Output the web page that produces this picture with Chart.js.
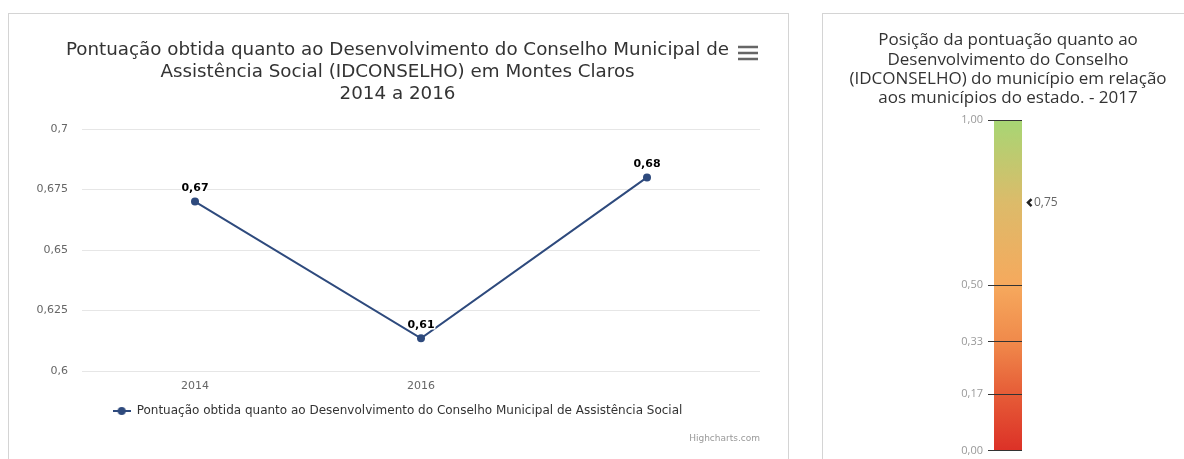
<!DOCTYPE html>
<html lang="pt-BR">
<head>
<meta charset="utf-8">
<title>IDCONSELHO - Montes Claros</title>
<script src="https://cdn.jsdelivr.net/npm/chart.js@4.4.1/dist/chart.umd.min.js"></script>
<style>
  html, body { margin: 0; padding: 0; background: #fff; }
  body { width: 1184px; height: 459px; position: relative; overflow: hidden; }
  .panel { position: absolute; border: 1px solid #d4d4d4; box-sizing: border-box; }
  #panelLine { left: 8px; top: 13px; width: 781px; height: 470px; }
  #panelGauge { left: 822px; top: 13px; width: 400px; height: 470px; }
  canvas { position: absolute; display: block; }
  #lineChart { left: 9px; top: 14px; }
  #gaugeChart { left: 823px; top: 14px; }
</style>
</head>
<body>
<div class="panel" id="panelLine"></div>
<div class="panel" id="panelGauge"></div>
<canvas id="lineChart" width="779" height="445"></canvas>
<canvas id="gaugeChart" width="361" height="448"></canvas>
<script>
// ---- data ----
const years = ['2014', '2016', ''];
const scores = [0.67, 0.6135, 0.68];
const scoreMin = 0.6;
const scoreMax = 0.7;
const scoreStep = 0.025;

const gaugeRange = [0, 1];
const gaugeTicks = [0, 0.17, 0.33, 0.5, 1];
const gaugeValue = 0.75;

const seriesName = 'Pontuação obtida quanto ao Desenvolvimento do Conselho Municipal de Assistência Social';
const lineTitle = [
  'Pontuação obtida quanto ao Desenvolvimento do Conselho Municipal de',
  'Assistência Social (IDCONSELHO) em Montes Claros',
  '2014 a 2016'
];
const gaugeTitle = [
  'Posição da pontuação quanto ao',
  'Desenvolvimento do Conselho',
  '(IDCONSELHO) do município em relação',
  'aos municípios do estado. - 2017'
];

const lineColor = '#2e4a7d';
const gaugeStops = [
  [0, '#dc3127'],
  [0.17, '#e65c37'],
  [0.33, '#f08a4b'],
  [0.5, '#f6a95d'],
  [0.75, '#dcbb6a'],
  [1, '#a7d674']
];

const fmt = (v, d) => v.toFixed(d).replace('.', ',');

// legend symbol: short line with a dot in the middle
function legendSymbol() {
  const c = document.createElement('canvas');
  c.width = 18; c.height = 10;
  const g = c.getContext('2d');
  g.strokeStyle = lineColor;
  g.lineWidth = 2;
  g.beginPath(); g.moveTo(0, 5); g.lineTo(18, 5); g.stroke();
  g.fillStyle = lineColor;
  g.beginPath(); g.arc(9, 5, 4, 0, Math.PI * 2); g.fill();
  return c;
}

// ---- small plugins ----
const valueLabels = {
  id: 'valueLabels',
  afterDatasetsDraw(chart) {
    const ctx = chart.ctx;
    const meta = chart.getDatasetMeta(0);
    ctx.save();
    ctx.font = 'bold 11px "DejaVu Sans", sans-serif';
    ctx.textAlign = 'center';
    ctx.textBaseline = 'middle';
    meta.data.forEach((pt, i) => {
      const txt = fmt(chart.data.datasets[0].data[i], 2);
      ctx.lineWidth = 3;
      ctx.strokeStyle = '#fff';
      ctx.strokeText(txt, pt.x, pt.y - 13);
      ctx.fillStyle = '#000';
      ctx.fillText(txt, pt.x, pt.y - 13);
    });
    ctx.restore();
  }
};

const chrome = {
  id: 'chrome',
  afterDraw(chart) {
    const ctx = chart.ctx;
    ctx.save();
    // export menu button
    ctx.fillStyle = '#666';
    [33, 39, 45].forEach(y => ctx.fillRect(729, y - 1.25, 20, 2.5));
    // credits
    ctx.font = '9px "DejaVu Sans", sans-serif';
    ctx.fillStyle = '#999';
    ctx.textAlign = 'right';
    ctx.textBaseline = 'middle';
    ctx.fillText('Highcharts.com', 751, 425);
    ctx.restore();
  }
};

// little chevron pointing at the municipality's position
const gaugeMarker = {
  id: 'gaugeMarker',
  afterDraw(chart) {
    const ctx = chart.ctx;
    const y = chart.scales.y.getPixelForValue(gaugeValue);
    const x = chart.chartArea.right;
    ctx.save();
    ctx.strokeStyle = '#222';
    ctx.lineWidth = 2.5;
    ctx.lineJoin = 'miter';
    ctx.beginPath();
    ctx.moveTo(x + 9.5, y - 3.5);
    ctx.lineTo(x + 6, y);
    ctx.lineTo(x + 9.5, y + 3.5);
    ctx.stroke();
    ctx.restore();
  }
};

// ---- line chart ----
new Chart(document.getElementById('lineChart'), {
  type: 'line',
  data: {
    labels: years,
    datasets: [{
      label: seriesName,
      data: scores,
      borderColor: lineColor,
      backgroundColor: lineColor,
      borderWidth: 2,
      tension: 0,
      pointRadius: 4,
      pointBorderWidth: 0,
      pointBackgroundColor: lineColor
    }]
  },
  options: {
    responsive: false,
    animation: false,
    layout: { padding: { left: 26, right: 28, top: 0, bottom: 32 } },
    scales: {
      x: {
        offset: true,
        grid: { display: false, drawTicks: false },
        border: { display: false },
        ticks: { color: '#666', padding: 9, font: { family: 'DejaVu Sans', size: 11 } },
        afterFit: s => { s.height = 30; }
      },
      y: {
        min: scoreMin,
        max: scoreMax,
        grid: { color: '#e6e6e6', drawTicks: false },
        border: { display: false },
        ticks: {
          stepSize: scoreStep,
          padding: 14,
          color: '#666',
          font: { family: 'DejaVu Sans', size: 11 },
          callback: v => String(parseFloat(v.toFixed(3))).replace('.', ',')
        },
        afterFit: s => { s.width = 47; }
      }
    },
    plugins: {
      title: {
        display: true,
        text: lineTitle,
        color: '#333',
        font: { family: 'DejaVu Sans', size: 18.3, weight: 'normal', lineHeight: '22px' },
        padding: { top: 25, bottom: 24 }
      },
      legend: {
        position: 'bottom',
        labels: {
          usePointStyle: true,
          pointStyleWidth: 18,
          color: '#333',
          padding: 4,
          font: { family: 'DejaVu Sans', size: 12 },
          generateLabels: () => [{
            text: seriesName,
            pointStyle: legendSymbol(),
            fillStyle: lineColor,
            strokeStyle: lineColor,
            lineWidth: 0,
            fontColor: '#333',
            datasetIndex: 0
          }]
        }
      },
      tooltip: { enabled: false }
    }
  },
  plugins: [valueLabels, chrome]
});

// ---- gauge bar ----
new Chart(document.getElementById('gaugeChart'), {
  type: 'bar',
  data: {
    labels: [''],
    datasets: [{
      data: [gaugeRange],
      barPercentage: 1,
      categoryPercentage: 1,
      borderWidth: 0,
      backgroundColor: ctx => {
        const y = ctx.chart.scales.y;
        const y0 = y ? y.getPixelForValue(gaugeRange[0]) : NaN;
        const y1 = y ? y.getPixelForValue(gaugeRange[1]) : NaN;
        if (!Number.isFinite(y0) || !Number.isFinite(y1)) return gaugeStops[0][1];
        const g = ctx.chart.ctx.createLinearGradient(0, y0, 0, y1);
        gaugeStops.forEach(([p, c]) => g.addColorStop(p, c));
        return g;
      }
    }]
  },
  options: {
    responsive: false,
    animation: false,
    layout: { padding: { left: 15, right: 6, top: 0, bottom: 0 } },
    scales: {
      x: { display: false },
      y: {
        min: gaugeRange[0],
        max: gaugeRange[1],
        grid: { color: '#333', lineWidth: 1, tickLength: 6, z: 1 },
        border: { display: false },
        afterBuildTicks: s => { s.ticks = gaugeTicks.map(v => ({ value: v })); },
        ticks: {
          padding: 5,
          color: '#999',
          font: { family: 'Open Sans', size: 11 },
          callback: v => fmt(v, 2)
        },
        afterFit: s => { s.width = 156; }
      },
      marker: {
        position: 'right',
        min: gaugeRange[0],
        max: gaugeRange[1],
        grid: { display: false, drawTicks: true, tickLength: 12 },
        border: { display: false },
        afterBuildTicks: s => { s.ticks = [{ value: gaugeValue }]; },
        ticks: {
          padding: 0,
          color: '#666',
          font: { family: 'Open Sans', size: 12 },
          callback: v => fmt(v, 2)
        },
        afterFit: s => { s.width = 156; }
      }
    },
    plugins: {
      title: {
        display: true,
        text: gaugeTitle,
        color: '#333',
        font: { family: 'Open Sans', size: 17, weight: 'normal', lineHeight: '19.3px' },
        padding: { top: 16.8, bottom: 12 }
      },
      legend: { display: false },
      tooltip: { enabled: false }
    }
  },
  plugins: [gaugeMarker]
});
</script>
</body>
</html>
